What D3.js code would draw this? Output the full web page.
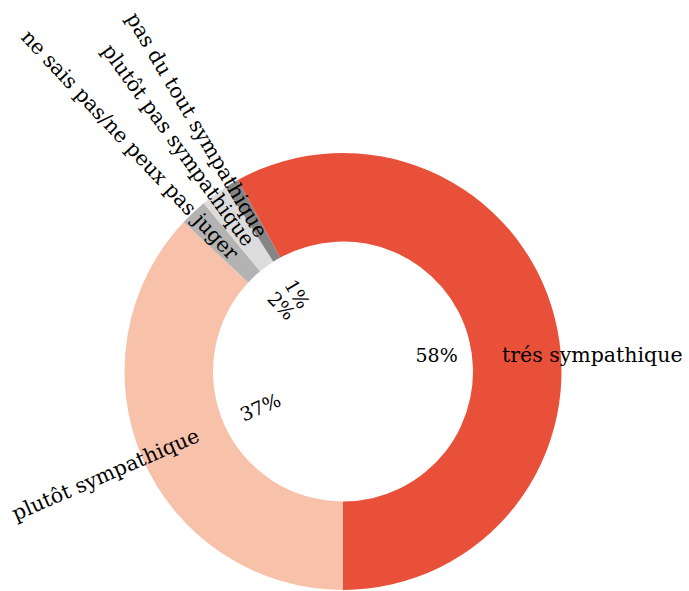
<!DOCTYPE html>
<html>
<head>
<meta charset="utf-8">
<script src="https://cdn.jsdelivr.net/npm/d3@7"></script>
<style>
  html, body { margin: 0; padding: 0; background: #ffffff; }
  svg text { font-family: "DejaVu Serif", serif; fill: #000; }
</style>
</head>
<body>
<svg id="chart" width="689" height="591"></svg>
<script>
// Opinion shares, drawn clockwise starting from the bottom of the ring
const categories = [
  "plutôt sympathique",
  "ne sais pas/ne peux pas juger",
  "plutôt pas sympathique",
  "pas du tout sympathique",
  "trés sympathique"
];
const shares = [37, 2, 2, 1, 58];
const colors = ["#f8c1aa", "#b3b3b3", "#dcdcdc", "#858585", "#e9503a"];

const width = 689, height = 591;
const cx = 343, cy = 371.5;
const outerR = 218.5, innerR = 130;
const pctR = 90;        // radius of the percentage labels
const nameR = 158;      // radius where category labels begin
const minGapDeg = 8;    // percentage labels closer than this are skipped

const data = categories.map((c, i) => ({ name: c, value: shares[i], color: colors[i] }));

const pie = d3.pie()
  .value(d => d.value)
  .sort(null)
  .startAngle(Math.PI)
  .endAngle(3 * Math.PI);

const arc = d3.arc().innerRadius(innerR).outerRadius(outerR);

const svg = d3.select("#chart");
const g = svg.append("g").attr("transform", `translate(${cx},${cy})`);

const arcs = pie(data);

g.selectAll("path.slice")
  .data(arcs)
  .join("path")
  .attr("class", "slice")
  .attr("d", arc)
  .attr("fill", d => d.data.color);

const total = d3.sum(shares);
const fmt = v => Math.round(v / total * 100) + "%";

// normalised mid-angle in degrees, in (-180, 180]
function midDeg(d) {
  let a = ((d.startAngle + d.endAngle) / 2) * 180 / Math.PI;
  a = ((a % 360) + 360) % 360;
  if (a > 180) a -= 360;
  return a;
}
function polar(r, deg) {
  const t = deg * Math.PI / 180;
  return [r * Math.sin(t), -r * Math.cos(t)];
}

const nameLayer = g.append("g");
const pctLayer = g.append("g");
let lastPctAngle = null;

arcs.forEach(d => {
  const a = midDeg(d);
  const share = d.data.value / total;
  const rightSide = a >= 0;

  if (share > 0.5) {
    // dominant slice: horizontal labels
    const la = a + 4.5;
    const [px, py] = polar(pctR + 5, la);
    pctLayer.append("text")
      .attr("x", px).attr("y", py)
      .attr("dy", "0.35em")
      .attr("text-anchor", "middle")
      .attr("font-size", 19)
      .text(fmt(d.data.value));
    nameLayer.append("text")
      .attr("x", nameR + 1).attr("y", py)
      .attr("dy", "0.35em")
      .attr("text-anchor", "start")
      .attr("font-size", 20.5)
      .text(d.data.name);
    lastPctAngle = a;
    return;
  }

  const rot = rightSide ? a - 90 : a + 90;

  // category label running outward along the radius
  const [nx, ny] = polar(nameR, a);
  nameLayer.append("text")
    .attr("transform", `translate(${nx},${ny}) rotate(${rot})`)
    .attr("dy", "0.35em")
    .attr("text-anchor", rightSide ? "start" : "end")
    .attr("font-size", 20.5)
    .text(d.data.name);

  // percentage inside the hole, skipped when crowded
  if (lastPctAngle !== null && Math.abs(a - lastPctAngle) < minGapDeg) return;
  lastPctAngle = a;
  const [px, py] = polar(pctR, a);
  pctLayer.append("text")
    .attr("transform", `translate(${px},${py}) rotate(${rot})`)
    .attr("dy", "0.35em")
    .attr("text-anchor", "middle")
    .attr("font-size", 19)
    .text(fmt(d.data.value));
});
</script>
</body>
</html>
